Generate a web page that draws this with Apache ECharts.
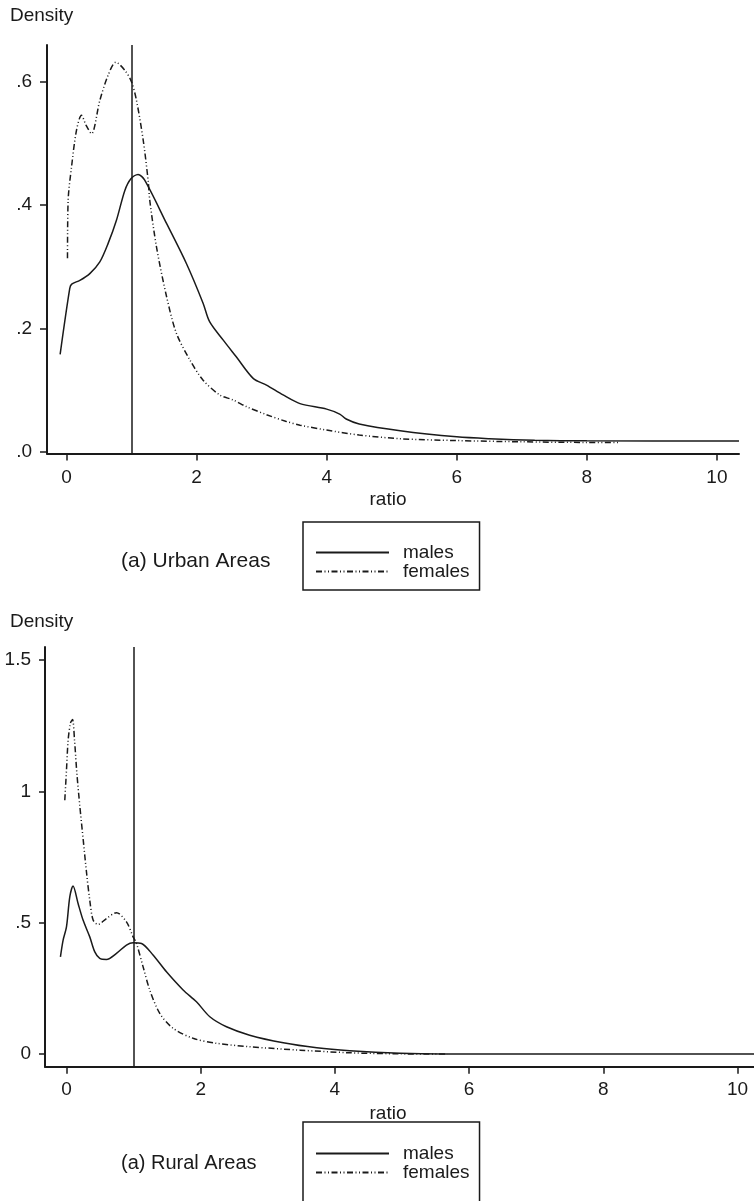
<!DOCTYPE html>
<html>
<head>
<meta charset="utf-8">
<script src="https://cdn.jsdelivr.net/npm/echarts@6/dist/echarts.min.js"></script>
<style>
  html, body { margin: 0; padding: 0; background: #fff; }
  #chart { width: 754px; height: 1201px; }
</style>
</head>
<body>
<div id="chart"></div>
<script>
// ---- data ----
// urban areas
var urbanMaleX = [-0.098, 0.05, 0.08, 0.205, 0.358, 0.512, 0.64, 0.769, 0.897, 0.99, 1.1, 1.2, 1.54, 1.845, 2.1, 2.2, 2.41, 2.61, 2.87, 3.075, 3.33, 3.59, 4.0, 4.2, 4.3, 4.5, 5.13, 6.0, 6.5, 7.2, 8.0, 10.34];
var urbanMaleY = [0.158, 0.265, 0.272, 0.278, 0.289, 0.308, 0.338, 0.376, 0.424, 0.443, 0.45, 0.441, 0.37, 0.305, 0.241, 0.211, 0.181, 0.154, 0.119, 0.108, 0.092, 0.078, 0.069, 0.061, 0.053, 0.045, 0.034, 0.024, 0.021, 0.0185, 0.0175, 0.0174];
var urbanFemaleX = [0.015, 0.025, 0.077, 0.154, 0.23, 0.3, 0.384, 0.512, 0.64, 0.758, 0.897, 1.0, 1.076, 1.18, 1.255, 1.28, 1.384, 1.54, 1.69, 1.896, 2.1, 2.357, 2.56, 2.768, 3.075, 3.38, 3.59, 4.0, 4.5, 5.13, 6.0, 7.0, 8.0, 8.5];
var urbanFemaleY = [0.314, 0.408, 0.462, 0.522, 0.546, 0.53, 0.516, 0.57, 0.611, 0.632, 0.619, 0.6, 0.57, 0.505, 0.44, 0.408, 0.332, 0.251, 0.192, 0.149, 0.116, 0.092, 0.084, 0.073, 0.06, 0.049, 0.043, 0.035, 0.027, 0.021, 0.018, 0.016, 0.015, 0.015];
// rural areas
var ruralMaleX = [-0.09, -0.05, 0.0, 0.05, 0.098, 0.173, 0.247, 0.347, 0.42, 0.496, 0.596, 0.745, 0.894, 0.993, 1.118, 1.29, 1.49, 1.738, 1.937, 2.136, 2.384, 2.73, 3.23, 3.73, 4.22, 4.97, 5.6, 10.25];
var ruralMaleY = [0.37, 0.434, 0.484, 0.599, 0.64, 0.573, 0.51, 0.446, 0.39, 0.364, 0.36, 0.383, 0.415, 0.424, 0.421, 0.377, 0.313, 0.244, 0.199, 0.142, 0.104, 0.072, 0.043, 0.024, 0.013, 0.003, 0.0, 0.0];
var ruralFemaleX = [-0.025, 0.0, 0.025, 0.06, 0.09, 0.12, 0.155, 0.2, 0.25, 0.3, 0.347, 0.397, 0.47, 0.596, 0.745, 0.894, 0.993, 1.043, 1.142, 1.241, 1.39, 1.589, 1.887, 2.235, 2.73, 3.48, 4.22, 4.97, 5.68];
var ruralFemaleY = [0.966, 1.08, 1.195, 1.26, 1.273, 1.195, 1.068, 0.941, 0.814, 0.688, 0.586, 0.51, 0.493, 0.516, 0.538, 0.503, 0.446, 0.421, 0.332, 0.244, 0.155, 0.098, 0.06, 0.041, 0.028, 0.015, 0.005, 0.001, 0.0];

// ticks and their labels
var xTicks = [0, 2, 4, 6, 8, 10];
var urbanYTicks = [0, 0.2, 0.4, 0.6];
var urbanYLabels = ['.0', '.2', '.4', '.6'];
var ruralYTicks = [0, 0.5, 1, 1.5];
var ruralYLabels = ['0', '.5', '1', '1.5'];
var seriesNames = ['males', 'females'];
var refLine = 1;

var ink = '#1a1a1a';
var font = "'Liberation Sans', Arial, Helvetica, sans-serif";
var femaleDash = [6, 2.5, 1, 2.5, 1, 2.5];

function zip(xs, ys) {
  return xs.map(function (x, i) { return [x, ys[i]]; });
}

// x axis for one panel
function makeXAxis(idx, min, max, margin, nameGap, namePad) {
  return {
    type: 'value', gridIndex: idx, min: min, max: max,
    name: 'ratio', nameLocation: 'middle', nameGap: nameGap,
    nameTextStyle: { color: ink, fontSize: 19, fontFamily: font, padding: namePad },
    axisLine: { onZero: false, lineStyle: { color: ink, width: 2 } },
    axisTick: { show: true, length: 7, customValues: xTicks, lineStyle: { color: ink, width: 1.5 } },
    axisLabel: { customValues: xTicks, margin: margin, color: ink, fontSize: 19, fontFamily: font },
    splitLine: { show: false }
  };
}

function makeYAxis(idx, min, max, ticks, labels, tickLen, margin) {
  return {
    type: 'value', gridIndex: idx, min: min, max: max,
    axisLine: { show: true, onZero: false, lineStyle: { color: ink, width: 2 } },
    axisTick: { show: true, length: tickLen, customValues: ticks, lineStyle: { color: ink, width: 1.5 } },
    axisLabel: {
      customValues: ticks, margin: margin, color: ink, fontSize: 19, fontFamily: font,
      formatter: function (v) {
        var i = ticks.indexOf(v);
        return i >= 0 ? labels[i] : '';
      }
    },
    splitLine: { show: false }
  };
}

function makeSeries(name, idx, data, dashed, withRef) {
  var s = {
    name: name, type: 'line', xAxisIndex: idx, yAxisIndex: idx,
    data: data, symbol: 'none', smooth: 0.3, silent: true,
    lineStyle: { color: ink, width: 1.5, type: dashed ? femaleDash : 'solid' },
    itemStyle: { color: ink }
  };
  if (withRef) {
    s.markLine = {
      silent: true, symbol: 'none', label: { show: false },
      lineStyle: { color: ink, width: 1.5, type: 'solid' },
      data: [{ xAxis: refLine }]
    };
  }
  return s;
}

// boxed legend, symbol hidden so only the line pattern shows
function makeLegend(top, padding) {
  return {
    data: seriesNames, orient: 'vertical', left: 303, top: top, height: 120,
    padding: padding, itemGap: 0, itemWidth: 73, itemHeight: 14,
    borderColor: ink, borderWidth: 1.5, selectedMode: false,
    itemStyle: { color: 'rgba(0,0,0,0)', borderWidth: 0, opacity: 0 },
    textStyle: { color: ink, fontSize: 19, fontFamily: font, lineHeight: 18, padding: [0, 0, 0, 9] }
  };
}

var chart = echarts.init(document.getElementById('chart'), null, { renderer: 'canvas' });

var option = {
  animation: false,
  backgroundColor: '#fff',
  title: [
    { text: 'Density', left: 10, top: 6, padding: 0, textStyle: { color: ink, fontSize: 19, fontWeight: 'normal', fontFamily: font } },
    { text: '(a) Urban Areas', left: 121, top: 551, padding: 0, textStyle: { color: ink, fontSize: 21, fontWeight: 'normal', fontFamily: font } },
    { text: 'Density', left: 10, top: 612, padding: 0, textStyle: { color: ink, fontSize: 19, fontWeight: 'normal', fontFamily: font } },
    { text: '(a) Rural Areas', left: 121, top: 1153, padding: 0, textStyle: { color: ink, fontSize: 20, fontWeight: 'normal', fontFamily: font } }
  ],
  legend: [
    makeLegend(522, [21, 10, 9, 12]),
    makeLegend(1122, [22, 10, 30, 12])
  ],
  grid: [
    { left: 47, top: 45, width: 692, height: 408.5 },
    { left: 45, top: 647, width: 709, height: 419.7 }
  ],
  xAxis: [
    makeXAxis(0, -0.3, 10.34, 15, 37, [0, 10, 0, 0]),
    makeXAxis(1, -0.32, 10.245, 14, 38, [0, 23, 0, 0])
  ],
  yAxis: [
    makeYAxis(0, -0.003, 0.66, urbanYTicks, urbanYLabels, 7, 15),
    makeYAxis(1, -0.048, 1.549, ruralYTicks, ruralYLabels, 6, 14)
  ],
  series: [
    makeSeries('males', 0, zip(urbanMaleX, urbanMaleY), false, true),
    makeSeries('females', 0, zip(urbanFemaleX, urbanFemaleY), true, false),
    makeSeries('males', 1, zip(ruralMaleX, ruralMaleY), false, true),
    makeSeries('females', 1, zip(ruralFemaleX, ruralFemaleY), true, false)
  ]
};

chart.setOption(option);
</script>
</body>
</html>
